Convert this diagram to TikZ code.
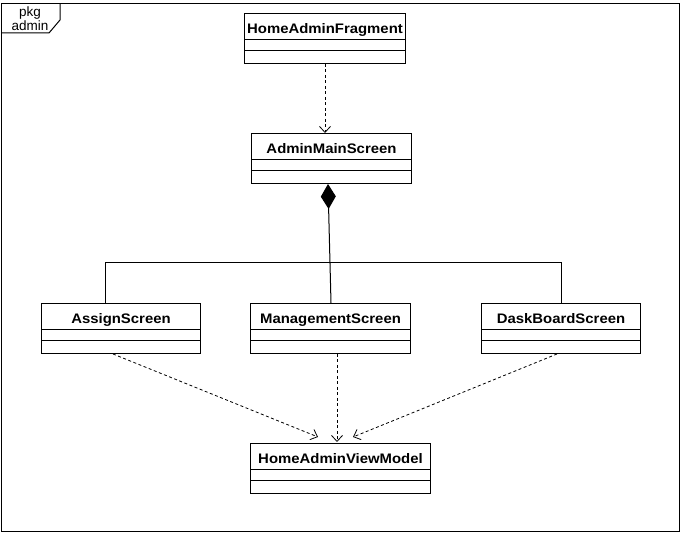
\documentclass[tikz,border=0pt]{standalone}
\usepackage{fontspec}
\setmainfont{Liberation Sans}
\newfontfamily\titlefont[FakeStretch=1.08]{Liberation Sans}
\usetikzlibrary{arrows.meta,calc}
\tikzset{
  classbox/.style={draw, line width=1pt, rectangle, minimum height=50pt, inner sep=0pt},
  classtitle/.style={anchor=base, inner sep=0pt, font=\titlefont\bfseries\fontsize{13.8pt}{15pt}\selectfont},
  divider/.style={line width=1pt},
  dep/.style={line width=0.8pt, dash pattern=on 3pt off 2.5pt, -{Straight Barb[length=6pt,width=11pt,line width=0.8pt]}},
  assoc/.style={line width=1pt},
  comp/.style={line width=1pt, {Diamond[length=25pt,width=15pt,fill=black]}-},
  pkglabel/.style={anchor=base, inner sep=0pt, font=\fontsize{13.5pt}{15pt}\selectfont},
}
\newcommand{\umlclass}[5]{%
  \node[classbox, minimum width=#4pt, anchor=north west] (#1) at (#2,#3) {};
  \node[classtitle] (#1-t) at ($(#1.north)+(0,-20.5pt)$) {#5};
  \draw[divider] ($(#1.north west)+(0,-27pt)$) -- ($(#1.north east)+(0,-27pt)$);
  \draw[divider] ($(#1.north west)+(0,-38pt)$) -- ($(#1.north east)+(0,-38pt)$);
}
\begin{document}
\begin{tikzpicture}[x=1pt,y=-1pt]
\useasboundingbox (0,0) rectangle (681,534);
% package frame
\draw[line width=1pt] (1,4) rectangle (679,532);
\draw[line width=1pt] (60,4) -- (60,20) -- (49,33) -- (1,33);
\node[pkglabel] (pkg1) at (30,17) {pkg};
\node[pkglabel] (pkg2) at (30,30.5) {admin};
% classes
\umlclass{haf}{244}{13}{161}{HomeAdminFragment}
\umlclass{ams}{251}{133}{160}{AdminMainScreen}
\umlclass{as}{41}{303}{159}{AssignScreen}
\umlclass{ms}{250}{303}{160}{ManagementScreen}
\umlclass{ds}{481}{303}{159}{DaskBoardScreen}
\umlclass{vm}{250}{443}{180}{HomeAdminViewModel}
% dependency
\draw[dep] ($(haf.south west)+(81pt,0)$) -- ($(ams.north west)+(74pt,0)$);
% composition
\draw[comp] ($(ams.south west)+(77pt,0)$) -- ($(ms.north west)+(81pt,0)$);
\coordinate (jL) at (105,263);
\coordinate (jR) at (561,263);
\draw[assoc] (as.north -| jL) -- (jL) -- (jR) -- (ds.north -| jR);
% dependencies to view model
\draw[dep] ($(as.south west)+(72pt,0)$) -- ($(vm.north west)+(68pt,6pt)$);
\draw[dep] ($(ms.south west)+(87pt,0)$) -- ($(vm.north west)+(87pt,1pt)$);
\draw[dep] ($(ds.south west)+(76pt,0)$) -- ($(vm.north west)+(103pt,6pt)$);
\end{tikzpicture}
\end{document}
